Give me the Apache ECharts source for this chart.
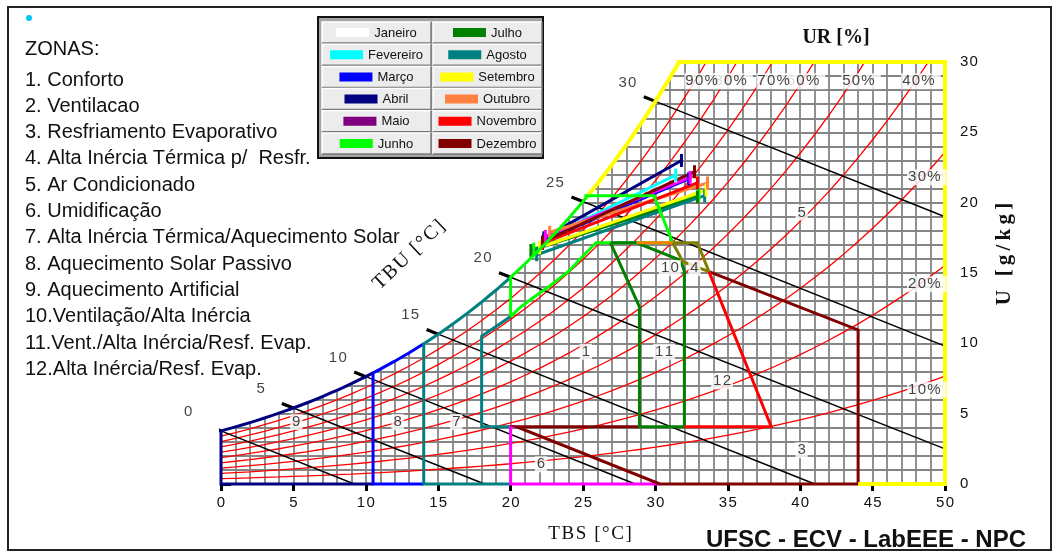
<!DOCTYPE html>
<html>
<head>
<meta charset="utf-8">
<title>Carta bioclimática</title>
<script src="https://cdn.jsdelivr.net/npm/echarts@6.0.0/dist/echarts.min.js"></script>
<style>
html, body { margin: 0; padding: 0; background: #fff; }
#chart { width: 1059px; height: 552px; }
</style>
</head>
<body>
<div id="chart"></div>
<script>
// ---------------- data ----------------
// saturation vapour pressure of water, kPa, at 0..50 °C (steam tables)
const satPressure = [
  0.6113, 0.6571, 0.7060, 0.7581, 0.8135, 0.8726, 0.9354, 1.0021, 1.0730, 1.1482,
  1.2281, 1.3129, 1.4027, 1.4979, 1.5988, 1.7056, 1.8185, 1.9380, 2.0644, 2.1978,
  2.3388, 2.4877, 2.6447, 2.8104, 2.9850, 3.1690, 3.3629, 3.5670, 3.7818, 4.0078,
  4.2455, 4.4953, 4.7578, 5.0335, 5.3229, 5.6267, 5.9453, 6.2795, 6.6298, 6.9969,
  7.3814, 7.7840, 8.2054, 8.6463, 9.1075, 9.5898, 10.094, 10.620, 11.171, 11.745,
  12.344
];
const rhLevels = [10, 20, 30, 40, 50, 60, 70, 80, 90];

// wet-bulb temperature lines and where each one leaves the chart
const tbuValues = [0, 5, 10, 15, 20, 25, 30];
const tbuEnds = [[9.2, 0], [18.2, 0], [28.6, 0], [41.0, 0], [50, 2.5], [50, 9.8], [50, 19.0]];

// monthly climate lines (TBS °C, U g/kg): lower and upper ends
const months = ['Janeiro', 'Fevereiro', 'Março', 'Abril', 'Maio', 'Junho',
                'Julho', 'Agosto', 'Setembro', 'Outubro', 'Novembro', 'Dezembro'];
const monthLow = [[22.2, 17.3], [22.3, 17.4], [22.3, 17.3], [22.3, 17.5], [22.4, 17.6], [21.6, 16.7],
                  [21.4, 16.6], [21.8, 16.3], [22.0, 16.8], [22.7, 17.9], [22.2, 17.1], [22.2, 17.2]];
const monthHigh = [[31.4, 21.9], [31.4, 21.96], [32.3, 21.7], [31.8, 23.0], [32.4, 21.8], [33.0, 20.6],
                   [32.9, 20.4], [33.4, 20.5], [33.5, 20.9], [33.6, 21.4], [32.9, 21.4], [32.7, 22.2]];

// zone list
const zoneNames = ['Conforto', 'Ventilacao', 'Resfriamento Evaporativo', 'Alta Inércia Térmica p/  Resfr.',
  'Ar Condicionado', 'Umidificação', 'Alta Inércia Térmica/Aquecimento Solar', 'Aquecimento Solar Passivo',
  'Aquecimento Artificial', 'Ventilação/Alta Inércia', 'Vent./Alta Inércia/Resf. Evap.', 'Alta Inércia/Resf. Evap.'];

// zone number tags and their anchors (TBS, U)
const zoneTags = ['1', '11', '12', '3', '10', '4', '5', '6', '7', '8', '9'];
const zoneTagAt = [[25.2, 9.4], [30.6, 9.4], [34.6, 7.3], [40.1, 2.4], [31.0, 15.35], [32.7, 15.35],
                   [40.1, 19.3], [22.1, 1.4], [16.25, 4.4], [12.2, 4.4], [5.2, 4.4]];

// relative humidity tags
const rhTopTags = [40, 50, 60, 70, 80, 90];
const rhTopAt = [[46.97, 28.64], [42.83, 28.64], [39.0, 28.64], [36.97, 28.64], [34.0, 28.64], [32.0, 28.64]];
const rhSideTags = [30, 20, 10];
const rhSideAt = [[47.38, 21.8], [47.38, 14.2], [47.38, 6.7]];

// zone boundary vertices (TBS, U) that do not follow the saturation curve
const comfortLowerEdge = [[25.9, 17.15], [24.8, 16.0], [24.1, 15.2], [22.6, 14.0], [21.5, 13.2], [20.6, 12.5], [20.0, 11.9]];
const zone7Inner = [[20, 4.07], [18, 4.07], [18, 10.5], [20, 11.9]];
const zone6Edge = [[20.4, 4.07], [20, 4.07], [20, 0], [30.3, 0]];
const zone3Edge = [[28.9, 4.07], [20.4, 4.07], [30.3, 0], [44, 0], [44, 10.95], [33.7, 15.1]];
const zone11Edge = [[26.9, 17.15], [28.9, 12.6], [28.9, 4.07], [32, 4.07], [32, 15.1], [31.75, 15.9], [28.7, 17.15], [26.9, 17.15]];
const zone10Edge = [[28.7, 17.15], [31.2, 17.15]];
const zone4Edge = [[31.2, 17.15], [32.9, 17.15], [33.7, 15.1], [31.9, 15.8], [31.2, 17.15]];
const zone12Edge = [[33.7, 15.1], [38, 4.07], [32, 4.07]];
const comfortTop = [[25.2, 20.5], [29.9, 20.5], [31.2, 17.15]];

// ---------------- psychrometrics ----------------
const PATM = 101.325;
function vapourPressure(t) {
  const i = Math.max(0, Math.min(Math.floor(t), satPressure.length - 2));
  const f = t - i;
  return satPressure[i] * (1 - f) + satPressure[i + 1] * f;
}
function humidity(t, rh) {            // g/kg
  const pv = rh / 100 * vapourPressure(t);
  return 622 * pv / (PATM - pv);
}
const wSat = t => humidity(t, 100);
function satPath(t0, t1) {
  const step = 0.5, pts = [[t0, wSat(t0)]];
  for (let t = Math.floor(t0 / step) * step + step; t < t1 - 1e-9; t += step) pts.push([t, wSat(t)]);
  pts.push([t1, wSat(t1)]);
  return pts;
}
let lo = 25, hi = 40;
for (let k = 0; k < 40; k++) { const m = (lo + hi) / 2; if (wSat(m) < 30) lo = m; else hi = m; }
const tTop = (lo + hi) / 2;

const spaced = s => String(s).split('').join('\u200A');

// ---------------- series ----------------
const series = [];

// white area above the saturation curve (hides the grid there)
series.push({
  type: 'custom', z: 1, silent: true, clip: false, data: [[0, 0]],
  renderItem: function (params, api) {
    const pts = satPath(0, tTop).map(p => api.coord(p));
    const tr = api.coord([tTop, 30]);
    const tl = api.coord([0, 30]);
    const first = pts[0];
    pts.push([tr[0] + 1, tr[1] - 3], [tl[0] - 3, tl[1] - 3], [tl[0] - 3, first[1]]);
    return { type: 'polygon', shape: { points: pts }, style: { fill: '#fff' } };
  }
});

// relative humidity curves
rhLevels.forEach(rh => {
  const d = [];
  for (let t = 0; t <= 50; t++) d.push([t, humidity(t, rh)]);
  series.push({ type: 'line', z: 2, silent: true, symbol: 'none', data: d,
    lineStyle: { color: '#ff0000', width: 1.3 } });
});

// wet-bulb lines with a short heavy tick beyond the saturation curve
tbuValues.forEach((t, i) => {
  const ws = wSat(t), end = tbuEnds[i];
  const slope = (ws - end[1]) / (end[0] - t);
  series.push({ type: 'line', z: 3, silent: true, symbol: 'none', data: [[t, ws], end],
    lineStyle: { color: '#000', width: 1.4 } });
  series.push({ type: 'line', z: 3, silent: true, symbol: 'none', clip: false,
    data: [[t - 0.8, ws + 0.8 * slope], [t, ws]],
    lineStyle: { color: '#000', width: 3.2 } });
});
series.push({
  type: 'scatter', z: 6, silent: true, symbolSize: 0,
  data: tbuValues.map(t => ({ value: [t, wSat(t)], name: String(t) })),
  label: { show: true, position: [-37, -19], align: 'left', verticalAlign: 'middle',
    formatter: p => spaced(p.name), fontFamily: 'Liberation Sans', fontSize: 15, color: '#111' }
});

// monthly lines
const monthSwatch = ['#ffffff', '#00ffff', '#0000ff', '#000080', '#800080', '#00ff00',
                     '#008000', '#008080', '#ffff00', '#ff8040', '#ff0000', '#800000'];
const monthLine = monthSwatch.slice();
monthLine[4] = '#ff00ff';
months.forEach((m, i) => {
  series.push({ type: 'line', name: m, z: 4, silent: true, data: [monthLow[i], monthHigh[i]],
    symbol: 'rect', symbolSize: [3, 13], showSymbol: true,
    itemStyle: { color: monthLine[i] }, lineStyle: { color: monthLine[i], width: 3 } });
});

// zone outlines, drawn in this order
const outlines = [
  { color: '#000080', paths: [[[10.5, 0], [0, 0]].concat(satPath(0, 10.5))] },
  { color: '#0000ff', paths: [[[14, 0], [10.5, 0]].concat(satPath(10.5, 14))] },
  { color: '#008080', paths: [[[20, 0], [14, 0]].concat(satPath(14, 20)), zone7Inner] },
  { color: '#ff00ff', paths: [zone6Edge] },
  { color: '#800000', paths: [zone3Edge] },
  { color: '#ffff00', width: 4, paths: [satPath(25.2, tTop).concat([[50, 30], [50, 0], [44, 0]])] },
  { color: '#00ff00', paths: [[[20, 11.9]].concat(satPath(20, 25.2), comfortTop, comfortLowerEdge)] },
  { color: '#008000', paths: [zone11Edge] },
  { color: '#ff8000', paths: [zone10Edge] },
  { color: '#808000', paths: [zone4Edge] },
  { color: '#ff0000', paths: [zone12Edge] }
];
outlines.forEach(o => o.paths.forEach(p => {
  series.push({ type: 'line', z: 5, silent: true, symbol: 'none', clip: false, data: p,
    lineStyle: { color: o.color, width: o.width || 3, join: 'miter' } });
}));

// zone number tags
series.push({
  type: 'scatter', z: 7, silent: true, symbolSize: 0,
  data: zoneTags.map((s, i) => ({ value: zoneTagAt[i], name: s })),
  label: { show: true, position: [0, 0], align: 'center', verticalAlign: 'middle',
    formatter: p => spaced(p.name), backgroundColor: '#fff', padding: [1, 2, 0, 2],
    fontFamily: 'Liberation Sans', fontSize: 15, color: '#111' }
});
// relative humidity tags
series.push({
  type: 'scatter', z: 7, silent: true, symbolSize: 0,
  data: rhTopTags.map((s, i) => ({ value: rhTopAt[i], name: s + '%' }))
    .concat(rhSideTags.map((s, i) => ({ value: rhSideAt[i], name: s + '%' }))),
  label: { show: true, position: [0, 0], align: 'left', verticalAlign: 'middle',
    formatter: p => spaced(p.name), backgroundColor: '#fff', padding: [1, 6, 0, 1],
    fontFamily: 'Liberation Sans', fontSize: 15, color: '#111' }
});

// ---------------- graphics: frame, zone list, legend, titles ----------------
const graphics = [];
const txt = (x, y, text, font, align, extra) => Object.assign({ type: 'text', x: x, y: y,
  style: { text: text, font: font, fill: '#111', align: align, verticalAlign: 'middle',
           textAlign: align, textVerticalAlign: 'middle' } }, extra || {});

graphics.push({ type: 'rect', shape: { x: 8, y: 7, width: 1043, height: 543 },
  style: { fill: 'none', stroke: '#222', lineWidth: 2 } });
graphics.push({ type: 'circle', shape: { cx: 29, cy: 18, r: 3 }, style: { fill: '#00c8f0' } });

const listFont = '20px "Liberation Sans"';
graphics.push(txt(25, 49, 'ZONAS:', listFont, 'left'));
zoneNames.forEach((n, i) => {
  graphics.push(txt(25, 80 + i * 26.3, (i < 9 ? (i + 1) + '. ' : (i + 1) + '.') + n, listFont, 'left'));
});

// legend panel
graphics.push({ type: 'rect', shape: { x: 318, y: 17, width: 225, height: 141 },
  style: { fill: '#a4a4a4', stroke: '#111', lineWidth: 2 } });
const meas = document.createElement('canvas').getContext('2d');
const legendFont = '13px "Liberation Sans"';
meas.font = legendFont;
months.forEach((m, i) => {
  const col = i < 6 ? 0 : 1, row = i % 6;
  const cx = 322 + col * 111, cy = 22 + row * 22.2, cw = 109, ch = 21;
  graphics.push({ type: 'rect', shape: { x: cx, y: cy, width: cw, height: ch }, style: { fill: '#ececec' } });
  graphics.push({ type: 'polyline', shape: { points: [[cx, cy + ch], [cx, cy], [cx + cw, cy]] },
    style: { stroke: '#ffffff', lineWidth: 1.5, fill: null } });
  graphics.push({ type: 'polyline', shape: { points: [[cx, cy + ch], [cx + cw, cy + ch], [cx + cw, cy]] },
    style: { stroke: '#7a7a7a', lineWidth: 1.5, fill: null } });
  const tw = meas.measureText(m).width;
  const x0 = cx + (cw - (33 + 5 + tw)) / 2;
  graphics.push({ type: 'rect', shape: { x: x0, y: cy + ch / 2 - 4.5, width: 33, height: 9 },
    style: { fill: monthSwatch[i] } });
  graphics.push(txt(x0 + 38, cy + ch / 2 + 0.5, m, legendFont, 'left'));
});

// axis titles
const serif = '"Liberation Serif"';
graphics.push(txt(836, 38, 'UR [%]', 'bold 20px ' + serif, 'center'));
graphics.push(txt(590, 534, spaced('TBS [°C]'), '19px ' + serif, 'center'));
graphics.push(txt(1005, 254, 'U [g/kg]'.split('').join('\u2009'), 'bold 21px ' + serif, 'center', { rotation: Math.PI / 2 }));
graphics.push(txt(409, 255, spaced('TBU [°C]'), '20px ' + serif, 'center', { rotation: 0.76 }));
graphics.push(txt(866, 540, 'UFSC - ECV - LabEEE - NPC', 'bold 24px "Liberation Sans"', 'center'));

// keep all decorations above the plot
graphics.forEach(g => { g.z = 100; });

// ---------------- chart ----------------
const gridLine = { color: '#858585', width: 1.8 };
const tickLabel = { color: '#111', fontFamily: 'Liberation Sans', fontSize: 15, formatter: v => spaced(v) };
const option = {
  animation: false,
  backgroundColor: '#fff',
  grid: { left: 221, right: 114, top: 62, bottom: 68 },
  xAxis: {
    type: 'value', min: 0, max: 50, interval: 5,
    axisLine: { show: false },
    axisTick: { show: true, length: 7, lineStyle: { color: '#000', width: 3 } },
    axisLabel: Object.assign({ margin: 11 }, tickLabel),
    splitLine: { show: true, lineStyle: gridLine },
    minorTick: { show: false, splitNumber: 5 },
    minorSplitLine: { show: true, lineStyle: gridLine }
  },
  yAxis: {
    type: 'value', min: 0, max: 30, interval: 5, position: 'right',
    axisLine: { show: false },
    axisTick: { show: true, length: 10, lineStyle: { color: '#000', width: 3 } },
    axisLabel: Object.assign({ margin: 15 }, tickLabel),
    splitLine: { show: true, lineStyle: gridLine },
    minorTick: { show: false, splitNumber: 5 },
    minorSplitLine: { show: true, lineStyle: gridLine }
  },
  graphic: { elements: graphics },
  series: series
};
const chart = echarts.init(document.getElementById('chart'), null, { renderer: 'canvas' });
chart.setOption(option);
</script>
</body>
</html>
